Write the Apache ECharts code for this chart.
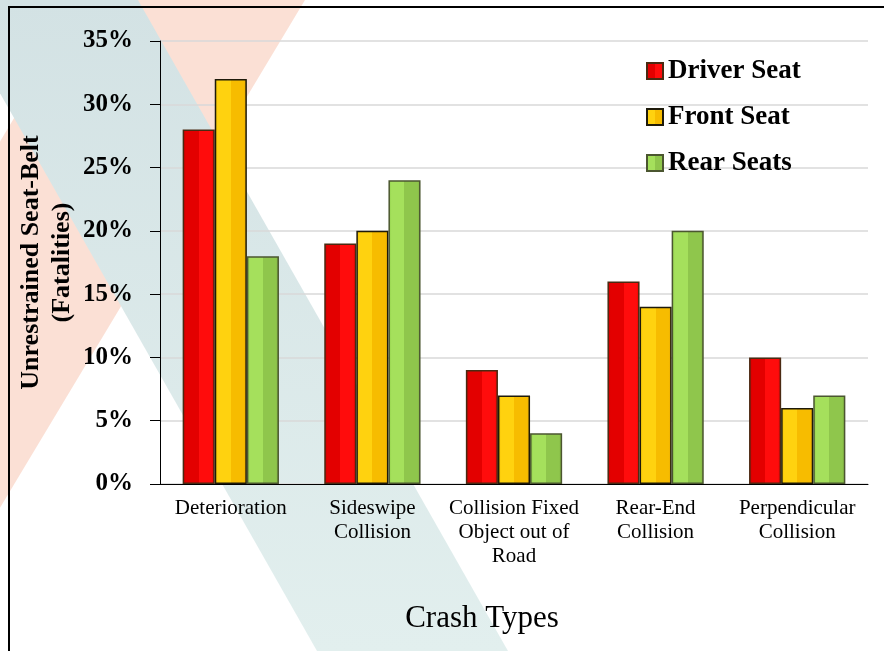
<!DOCTYPE html>
<html>
<head>
<meta charset="utf-8">
<script src="https://cdn.jsdelivr.net/npm/echarts@6.0.0/dist/echarts.min.js"></script>
<style>
  html, body { margin: 0; padding: 0; background: #fff; }
  #chart { width: 884px; height: 651px; }
</style>
</head>
<body>
<div id="chart"></div>
<script>
const categories = ['Deterioration', 'Sideswipe\nCollision', 'Collision Fixed\nObject out of\nRoad', 'Rear-End\nCollision', 'Perpendicular\nCollision'];
const seriesNames = ['Driver Seat', 'Front Seat', 'Rear Seats'];
const driverSeat = [28, 19, 9, 16, 10];
const frontSeat = [32, 20, 7, 14, 6];
const rearSeats = [18, 24, 4, 20, 7];

const serif = 'Liberation Serif, Times New Roman, serif';

// bevel-ish horizontal gradient
const bevel = (edgeL, left, right, edgeR) => new echarts.graphic.LinearGradient(0, 0, 1, 0, [
  { offset: 0, color: edgeL },
  { offset: 0.1, color: left },
  { offset: 0.5, color: left },
  { offset: 0.5, color: right },
  { offset: 0.9, color: right },
  { offset: 1, color: edgeR }
]);

const styles = [
  { fill: bevel('#c40000', '#e30000', '#ff0c0c', '#e00000'), border: '#4a2a12' },
  { fill: bevel('#f0c000', '#ffd20f', '#f7bc00', '#e8a800'), border: '#1e1a0a' },
  { fill: bevel('#8fcf48', '#a5e05c', '#8fc64c', '#7fb040'), border: '#4b5630' }
];
const values = [driverSeat, frontSeat, rearSeats];

const chart = echarts.init(document.getElementById('chart'));
chart.setOption({
  backgroundColor: '#fff',
  animation: false,
  graphic: [
    {
      type: 'polygon', z: -20, silent: true,
      shape: { points: [[85, 0], [305, 0], [-86, 651], [-306, 651]] },
      style: { fill: '#fbe0d5' }
    },
    {
      type: 'polygon', z: -19, silent: true,
      shape: { points: [[-53, 0], [138, 0], [508, 651], [317, 651]] },
      style: {
        fill: new echarts.graphic.LinearGradient(0, 0, 0, 1, [
          { offset: 0, color: '#d3e2e4' },
          { offset: 1, color: '#e2efee' }
        ], false)
      }
    },
    {
      type: 'rect', z: -18, silent: true,
      shape: { x: 9, y: 7, width: 900, height: 700 },
      style: { fill: null, stroke: '#000', lineWidth: 2 }
    }
  ],
  grid: { left: 160, right: 16, top: 41, bottom: 167 },
  legend: {
    orient: 'vertical',
    left: 641,
    top: 52,
    icon: 'rect',
    itemWidth: 16,
    itemHeight: 16,
    itemGap: 18,
    textStyle: { fontFamily: serif, fontWeight: 'bold', fontSize: 27, color: '#000', lineHeight: 28 },
    data: seriesNames
  },
  xAxis: {
    type: 'category',
    data: categories,
    name: 'Crash Types',
    nameLocation: 'middle',
    nameGap: 119,
    nameMoveOverlap: false,
    nameTextStyle: { fontFamily: serif, fontSize: 31, color: '#000', padding: [0, 64, 0, 0] },
    axisLine: { lineStyle: { color: '#000', width: 1 } },
    axisTick: { length: 6, lineStyle: { color: '#000' } },
    axisLabel: { fontFamily: serif, fontSize: 21, color: '#000', lineHeight: 24, margin: 12, interval: 0 }
  },
  yAxis: {
    type: 'value',
    min: 0,
    max: 35,
    interval: 5,
    name: 'Unrestrained Seat-Belt\n(Fatalities)',
    nameLocation: 'middle',
    nameGap: 82,
    nameMoveOverlap: false,
    nameTextStyle: { fontFamily: serif, fontWeight: 'bold', fontSize: 26, color: '#000', lineHeight: 31 },
    axisLine: { show: true, lineStyle: { color: '#000', width: 1 } },
    axisTick: { show: true, length: 10, lineStyle: { color: '#000' } },
    axisLabel: { formatter: '{value}%', fontFamily: serif, fontWeight: 'bold', fontSize: 25, color: '#000', margin: 27 },
    splitLine: { lineStyle: { color: '#d9d9d9', width: 1.5 } }
  },
  series: seriesNames.map((name, i) => ({
    name: name,
    type: 'bar',
    data: values[i],
    barGap: '0%',
    barCategoryGap: '32%',
    itemStyle: { color: styles[i].fill, borderColor: styles[i].border, borderWidth: 1.5 }
  }))
});
</script>
</body>
</html>
